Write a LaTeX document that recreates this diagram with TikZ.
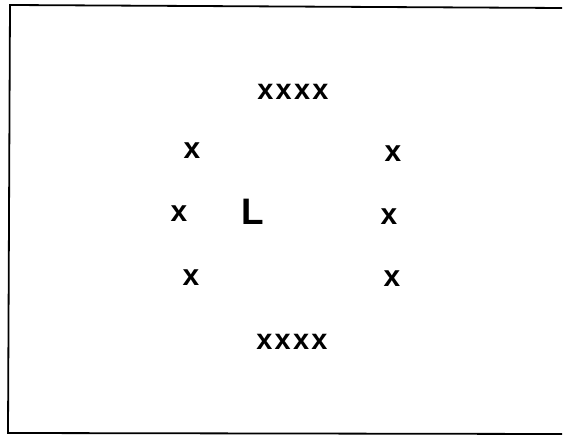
\documentclass[tikz,border=0pt]{standalone}
\usepackage{fontspec}
\setmainfont{Liberation Sans}
\begin{document}
\begin{tikzpicture}[x=1bp,y=-1bp,
  mark x/.style={inner sep=0pt,font=\fontsize{30}{30}\selectfont\bfseries},
  mark row/.style={inner sep=0pt,font=\fontsize{29}{29}\selectfont\bfseries\addfontfeature{LetterSpace=8}},
  letter/.style={inner sep=0pt,font=\fontsize{37}{37}\selectfont\bfseries}]
\useasboundingbox (0,0) rectangle (565,439);
\fill[white] (0,0) rectangle (565,439);
\draw[line width=1.8bp,line cap=butt] (562,8) -- (10,5) -- (8,433) -- (562,434);
\node[mark row] (top) at (293,92) {xxxx};
\node[mark row] (bottom) at (292,342) {xxxx};
\node[mark x] (l1) at (192,151) {x};
\node[mark x] (l2) at (179,214) {x};
\node[mark x] (l3) at (191,278) {x};
\node[mark x] (r1) at (393,154) {x};
\node[mark x] (r2) at (389,217) {x};
\node[mark x] (r3) at (392,279) {x};
\node[letter] (L) at (253,212) {L};
\end{tikzpicture}
\end{document}
